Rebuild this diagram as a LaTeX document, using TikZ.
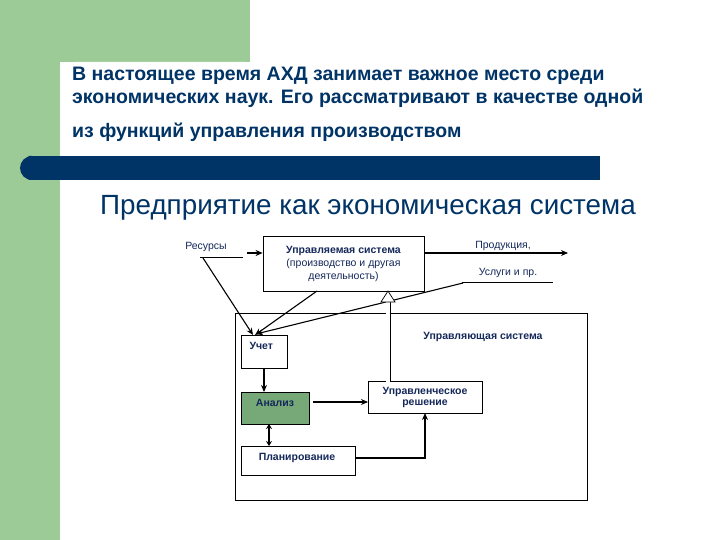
\documentclass[tikz,border=0pt]{standalone}
\usepackage{fontspec}
\setmainfont{Liberation Sans}
\usetikzlibrary{arrows.meta}
\definecolor{lgreen}{HTML}{9CCB98}
\definecolor{navy}{HTML}{003366}
\definecolor{ink}{HTML}{14285A}
\definecolor{boxgreen}{HTML}{77A877}
\begin{document}
\begin{tikzpicture}[x=1pt,y=-1pt,
  bx/.style={draw=black,line width=0.8pt,fill=white,inner sep=0pt},
  lbl/.style={font=\fontsize{10.5}{12}\selectfont\bfseries,text=ink},
  reg/.style={font=\fontsize{10.5}{12}\selectfont,text=ink},
  ar/.style={-{Stealth[length=7pt,width=6pt]},line width=1.5pt},
  thin/.style={line width=0.7pt}]
\useasboundingbox (0,0) rectangle (720,540);
% background
\fill[lgreen] (0,0) rectangle (60,540);
\fill[lgreen] (0,0) rectangle (250,62);
\fill[white,rounded corners=14pt] (60,62) rectangle (260,120);
\fill[white] (60,80) rectangle (260,540);
\fill[navy,rounded corners=12pt] (20,156) rectangle (40,180);
\fill[navy] (30,156) rectangle (600,180);
% title
\node[anchor=west,text=navy,font=\fontsize{19.5}{22}\selectfont\bfseries,inner sep=0pt] (t1) at (72,76) {В настоящее время АХД занимает важное место среди};
\node[anchor=west,text=navy,font=\fontsize{19.5}{22}\selectfont\bfseries,inner sep=0pt] (t2) at (72,98) {экономических наук. Его рассматривают в качестве одной};
\node[anchor=west,text=navy,font=\fontsize{19.5}{22}\selectfont\bfseries,inner sep=0pt] (t3) at (72,132) {из функций управления производством};
\node[anchor=west,text=navy,font=\fontsize{27.8}{32}\selectfont,inner sep=0pt] (sub) at (100,208) {Предприятие как экономическая система};
% outer box
\draw[thin] (235,313) rectangle (587,500);
\node[lbl] (us) at (483,337) {Управляющая система};
% boxes
\node[bx,minimum width=161pt,minimum height=55pt] (ups) at (343.5,263.5) {};
\node[align=center,font=\fontsize{10.5}{13}\selectfont,text=ink] at (ups) {\textbf{Управляемая система}\\(производство и другая\\деятельность)};
\node[bx,minimum width=46pt,minimum height=33pt] (uch) at (264,351.5) {};
\node[lbl,anchor=north west] at (246,339) {Учет};
\node[bx,fill=boxgreen,minimum width=68pt,minimum height=32pt] (an) at (275,408) {};
\node[lbl] at (275,403) {Анализ};
\node[bx,minimum width=114pt,minimum height=29pt] (pl) at (298,460.5) {};
\node[lbl] at (297,458) {Планирование};
\node[bx,minimum width=114pt,minimum height=32pt] (rs) at (425,397) {};
\node[lbl,align=center,font=\fontsize{10.5}{11}\selectfont\bfseries] at (425,397) {Управленческое\\решение};
% inputs / outputs
\node[reg] (res) at (206,247) {Ресурсы};
\draw[thin] (200,257) -- (243,257);
\coordinate (resL) at (203,258);
\node[reg] (prod) at (503,246) {Продукция,};
\node[reg] (usl) at (508,273) {Услуги и пр.};
\draw[thin] (462,282) -- (553,282);
\coordinate (uslL) at (463,283);
\coordinate (outR) at (568,253);
\draw[ar] (247,253) -- (ups.west |- 0,253);
\draw[ar] (ups.east |- 0,253) -- (outR);
\draw[ar,line width=1.1pt] (resL) -- (253,335);
\draw[ar,line width=1.1pt] (317,291) -- (255,335);
\draw[ar,line width=1.1pt] (uslL) -- (256,334);
% internal
\draw[ar] (264,368) -- (264,392);
\draw[ar] (313,402) -- (368,402);
\draw[{Stealth[length=5pt,width=6pt]}-{Stealth[length=5pt,width=6pt]},line width=1.5pt] (269,424) -- (269,446);
\draw[ar] (355,458) -- (425,458) -- (425,413);
% hollow arrow
\draw[line width=5pt] (388,381) -- (388,300);
\draw[white,line width=3.4pt] (388,382) -- (388,300);
\draw[fill=white,line width=0.7pt] (381,302) -- (388,291) -- (395,302) -- cycle;
\end{tikzpicture}
\end{document}
